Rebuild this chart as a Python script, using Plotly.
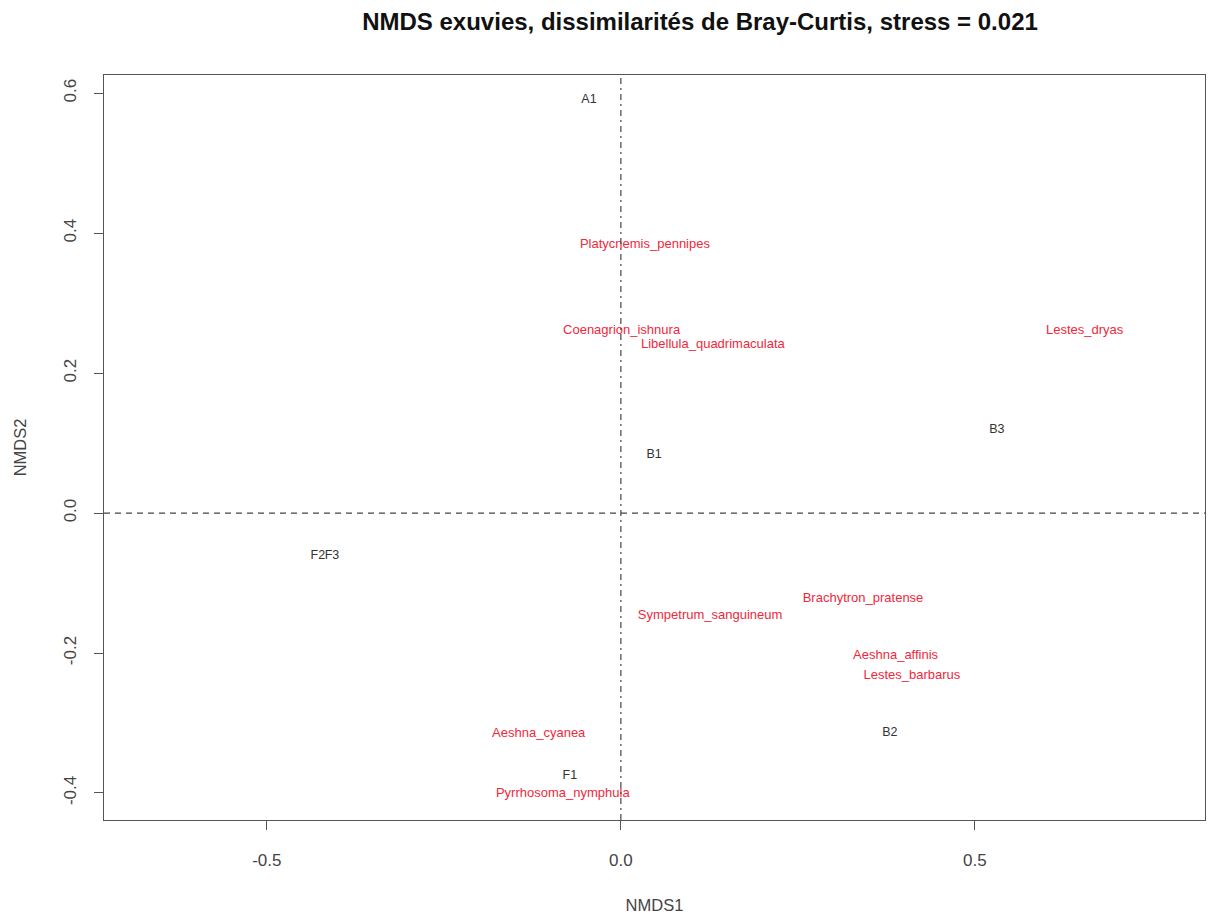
import plotly.graph_objects as go

# Site scores (labels in black)
site_labels = ["A1", "B1", "B3", "F2", "F3", "B2", "F1"]
site_x = [-0.045, 0.047, 0.531, -0.428, -0.408, 0.380, -0.072]
site_y = [0.590, 0.083, 0.119, -0.061, -0.061, -0.314, -0.376]

# Species scores (labels in red)
species_labels = ["Platycnemis_pennipes", "Coenagrion_ishnura", "Libellula_quadrimaculata",
                  "Lestes_dryas", "Brachytron_pratense", "Sympetrum_sanguineum",
                  "Aeshna_affinis", "Lestes_barbarus", "Aeshna_cyanea", "Pyrrhosoma_nymphula"]
species_x = [0.034, 0.001, 0.130, 0.655, 0.342, 0.126, 0.388, 0.411, -0.116, -0.082]
species_y = [0.383, 0.260, 0.241, 0.261, -0.123, -0.147, -0.204, -0.233, -0.316, -0.401]

x_ticks = [-0.5, 0.0, 0.5]
y_ticks = [-0.4, -0.2, 0.0, 0.2, 0.4, 0.6]

FONT = "Liberation Sans, Arial"

fig = go.Figure()
fig.add_trace(go.Scatter(x=site_x, y=site_y, mode="text", text=site_labels,
                         textfont=dict(family=FONT, size=12.5, color="#333333"),
                         textposition="middle center", showlegend=False, hoverinfo="skip"))
fig.add_trace(go.Scatter(x=species_x, y=species_y, mode="text", text=species_labels,
                         textfont=dict(family=FONT, size=13, color="#f0283c"),
                         textposition="middle center", showlegend=False, hoverinfo="skip"))

fig.add_hline(y=0, line=dict(color="#444444", width=1.2, dash="6px,5px"))
fig.add_vline(x=0, line=dict(color="#444444", width=1.2, dash="6px,4px,2px,4px"))

axis_common = dict(showgrid=False, zeroline=False, showline=True, mirror=True,
                   linecolor="#555555", linewidth=1.3, ticks="outside", ticklen=9,
                   tickcolor="#555555", tickwidth=1,
                   tickfont=dict(family=FONT, size=17, color="#444444"))

fig.update_layout(
    width=1208, height=917,
    margin=dict(l=104, r=3, t=75, b=97),
    paper_bgcolor="white", plot_bgcolor="white",
    title=dict(text="<b>NMDS exuvies, dissimilarités de Bray-Curtis, stress = 0.021</b>",
               x=700 / 1208, xanchor="center", y=1 - 22 / 917, yanchor="middle",
               font=dict(family=FONT, size=24, color="#111111")),
    xaxis=dict(range=[-0.730, 0.825], tickvals=x_ticks, ticktext=["-0.5", "0.0", "0.5"],
               ticklabelstandoff=15,
               title=dict(text="NMDS1", standoff=30,
                          font=dict(family=FONT, size=16.5, color="#444444")),
               **axis_common),
    yaxis=dict(range=[-0.4386, 0.626], tickvals=y_ticks,
               ticktext=["-0.4", "-0.2", "0.0", "0.2", "0.4", "0.6"], tickangle=-90,
               ticklabelstandoff=11,
               title=dict(text="NMDS2", standoff=30,
                          font=dict(family=FONT, size=16.5, color="#444444")),
               **axis_common),
)

fig.write_html(
    "out.html",
    config={"displayModeBar": False},
    post_script="document.body.style.margin='0';document.body.style.overflow='hidden';",
)
